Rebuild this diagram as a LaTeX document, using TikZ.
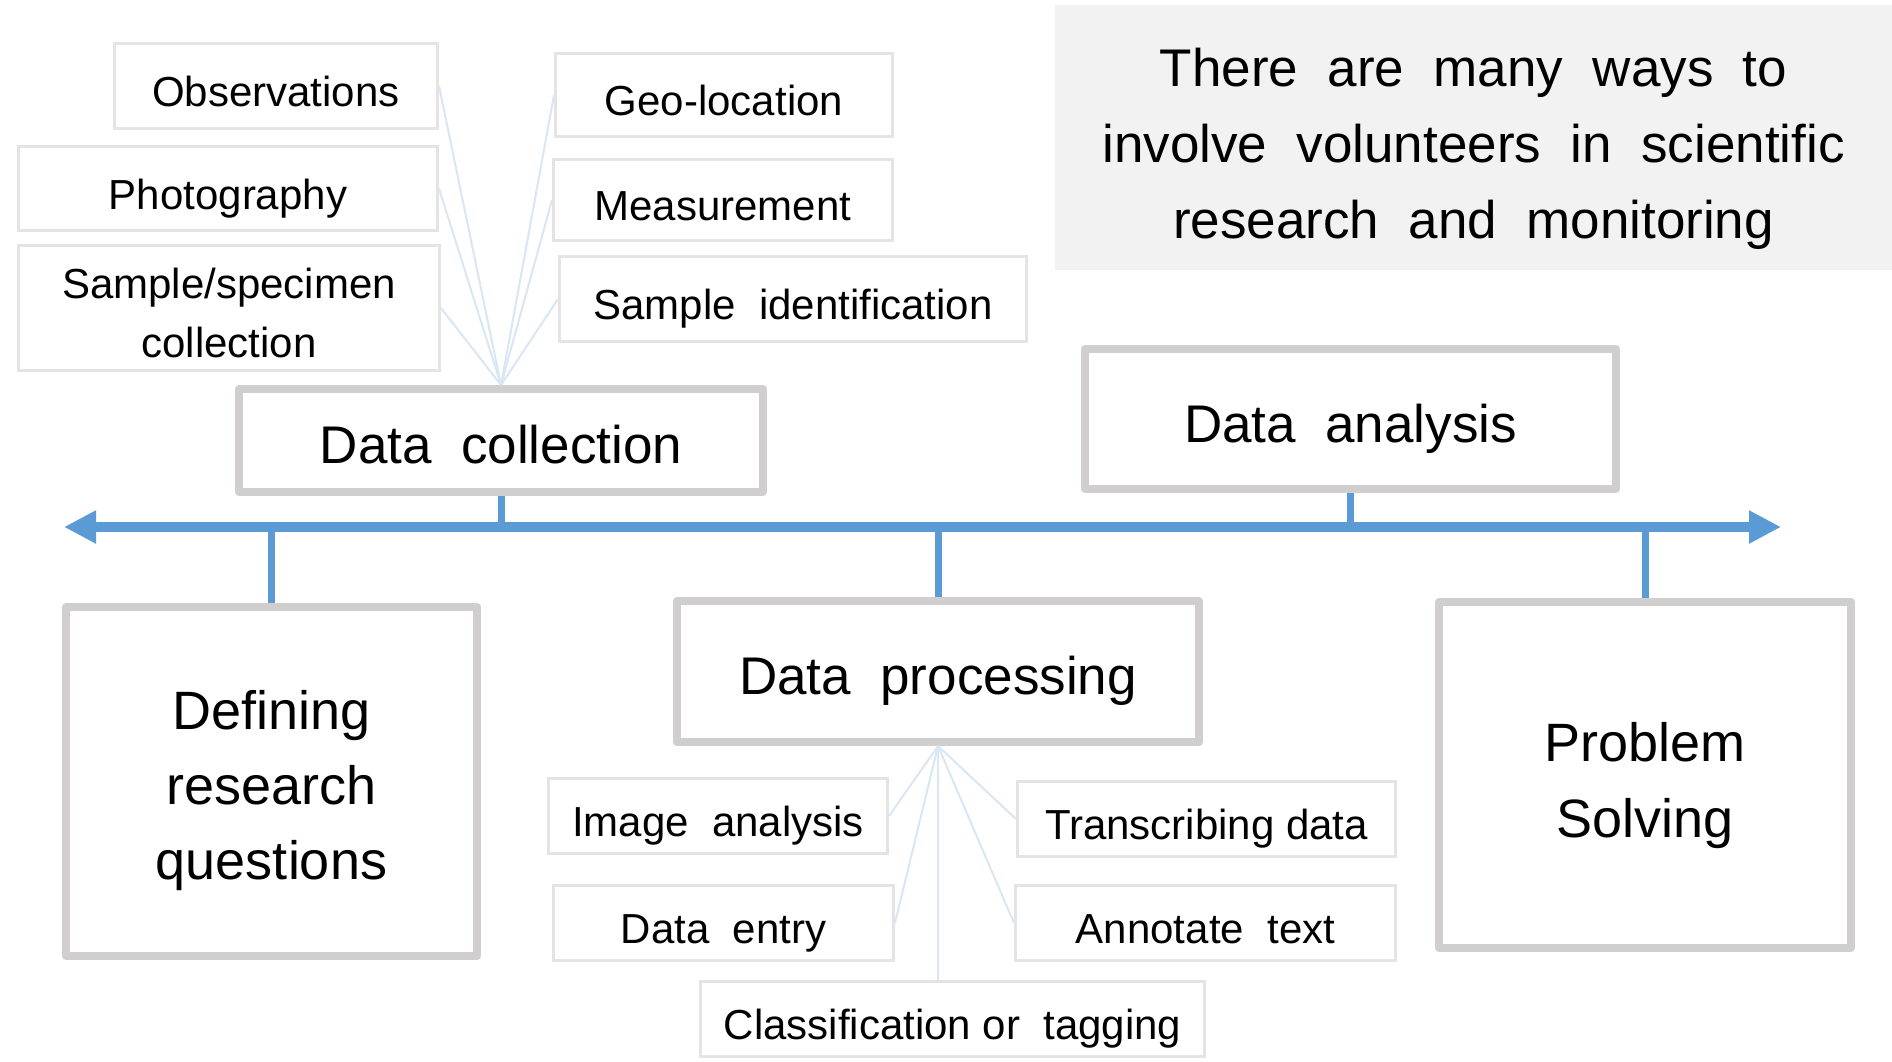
\documentclass[tikz,border=0pt]{standalone}
\usepackage{fontspec}
\setmainfont{Liberation Sans}
\usetikzlibrary{arrows.meta}
\definecolor{tlblue}{HTML}{5B9BD5}
\definecolor{bigborder}{HTML}{D0CECE}
\definecolor{smallborder}{HTML}{E4E4E4}
\definecolor{fanblue}{HTML}{D9E7F5}
\definecolor{titlebg}{HTML}{F2F2F2}
\begin{document}
\begin{tikzpicture}[x=1pt,y=-1pt,
  bigbox/.style={draw=bigborder, line width=8pt, line join=round, fill=white, inner sep=0pt, align=center, font=\fontsize{53}{76}\selectfont},
  smallbox/.style={draw=smallborder, line width=3pt, fill=white, inner sep=0pt, align=center, font=\fontsize{42}{59}\selectfont},
  oneline/.style={text height=41pt, text depth=0pt},
  bigline/.style={text height=46pt, text depth=0pt},
  fanline/.style={draw=fanblue, line width=2pt},
  tickline/.style={draw=tlblue, line width=7pt},
  tlarrow/.tip={Triangle[length=32pt,width=31pt]},
]
\fill[white] (0,0) rectangle (1892,1061);
\useasboundingbox (0,0) rectangle (1892,1061);

% title
\node[fill=titlebg, inner sep=0pt, minimum width=837pt, minimum height=265pt, align=center, font=\fontsize{53}{76}\selectfont] (title) at (1473.5,137.5)
 {\rule{0pt}{60pt}There\ \ are\ \ many\ \ ways\ \ to\\involve\ \ volunteers\ \ in\ \ scientific\\research\ \ and\ \ monitoring};

% data collection items
\node[smallbox, oneline, minimum width=323pt, minimum height=85pt] (obs) at (276,86) {Observations};
\node[smallbox, oneline, minimum width=419pt, minimum height=84pt] (photo) at (228,188.5) {Photography};
\node[smallbox, minimum width=421pt, minimum height=125pt] (spec) at (229,308) {\rule{0pt}{41pt}Sample/specimen\\collection};
\node[smallbox, oneline, minimum width=337pt, minimum height=83pt] (geo) at (724,95) {Geo-location};
\node[smallbox, oneline, minimum width=339pt, minimum height=81pt] (meas) at (723,200) {Measurement};
\node[smallbox, oneline, minimum width=467pt, minimum height=85pt] (sid) at (793,299) {Sample\ \ identification};

% main boxes
\node[bigbox, bigline, minimum width=524pt, minimum height=103pt] (dc) at (501,440.5) {Data\ \ collection};
\node[bigbox, bigline, minimum width=531pt, minimum height=140pt] (da) at (1350.5,419) {Data\ \ analysis};
\node[bigbox, bigline, minimum width=522pt, minimum height=141pt] (dp) at (938,671.5) {Data\ \ processing};
\node[bigbox, font=\fontsize{54}{75}\selectfont, minimum width=411pt, minimum height=349pt] (dr) at (271.5,781.5) {\rule{0pt}{58pt}Defining\\research\\questions};
\node[bigbox, font=\fontsize{54}{76}\selectfont, minimum width=412pt, minimum height=346pt] (ps) at (1645,775) {\rule{0pt}{61pt}Problem\\Solving};

% data processing items
\node[smallbox, oneline, minimum width=339pt, minimum height=75pt] (img) at (718,816) {Image\ \ analysis};
\node[smallbox, oneline, minimum width=340pt, minimum height=75pt] (entry) at (723.5,923) {Data\ \ entry};
\node[smallbox, oneline, minimum width=504pt, minimum height=75pt] (cls) at (952.5,1019) {Classification or\ \ tagging};
\node[smallbox, oneline, minimum width=378pt, minimum height=75pt] (trans) at (1206.5,819) {Transcribing data};
\node[smallbox, oneline, minimum width=380pt, minimum height=75pt] (ann) at (1205.5,923) {Annotate\ \ text};

% timeline
\coordinate (tl) at (0,527);
\coordinate (tlL) at (64,527);
\coordinate (tlR) at (1781,527);
\draw[tlblue, line width=10pt, tlarrow-tlarrow] (tlL) -- (tlR);
\draw[tickline] (dr.north) -- (dr.north |- tl);
\draw[tickline] (dc.south) -- (dc.south |- tl);
\draw[tickline] (dp.north) -- (dp.north |- tl);
\draw[tickline] (da.south) -- (da.south |- tl);
\draw[tickline] (ps.north) -- (ps.north |- tl);

% fans
\foreach \n in {obs,photo,spec} \draw[fanline] (dc.north) -- (\n.east);
\foreach \n in {geo,meas,sid} \draw[fanline] (dc.north) -- (\n.west);
\foreach \n in {img,entry} \draw[fanline] (dp.south) -- (\n.east);
\foreach \n in {trans,ann} \draw[fanline] (dp.south) -- (\n.west);
\draw[fanline] (dp.south) -- (dp.south |- cls.north);
\end{tikzpicture}
\end{document}
